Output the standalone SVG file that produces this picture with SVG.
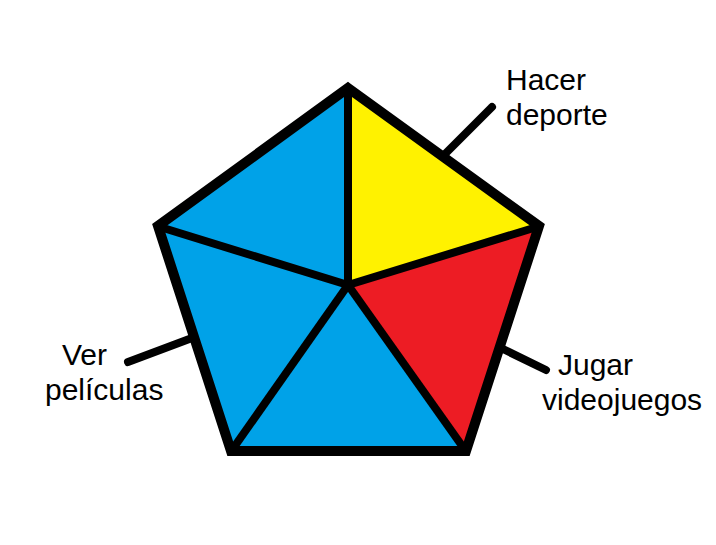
<svg xmlns="http://www.w3.org/2000/svg" width="716" height="545" viewBox="0 0 716 545">
<style>
.lbl{font-family:"Liberation Sans",Arial,sans-serif;font-size:30px;fill:#000}
.edge{stroke:#000;stroke-width:8;stroke-linecap:round;fill:none}
.inner{stroke:#000;stroke-width:8;stroke-linecap:butt}
.outline{fill:none;stroke:#000;stroke-width:10;stroke-linejoin:miter}
</style>
<rect width="716" height="545" fill="#fff"/>
<g id="pentagon">
<polygon points="348,90 160,227 348,285" fill="#00a2e8"/>
<polygon points="348,90 537,227 348,285" fill="#fff200"/>
<polygon points="537,227 465,450 348,285" fill="#ed1c24"/>
<polygon points="465,450 232,450 348,285" fill="#00a2e8"/>
<polygon points="232,450 160,227 348,285" fill="#00a2e8"/>
<g class="inner">
<line x1="348" y1="90" x2="348" y2="286"/>
<line x1="160" y1="227" x2="348" y2="285"/>
<line x1="537" y1="227" x2="348" y2="285"/>
<line x1="465" y1="450" x2="348" y2="285"/>
<line x1="232" y1="450" x2="348" y2="285"/>
</g>
<polygon class="outline" points="348,88 539,226 466,451 231,451 158,226"/>
</g>
<g id="connectors">
<line class="edge" x1="492" y1="107" x2="446" y2="153"/>
<line class="edge" x1="128" y1="362" x2="192" y2="338"/>
<line class="edge" x1="503" y1="349" x2="546" y2="370"/>
</g>
<g id="label-hacer-deporte">
<text class="lbl" x="506" y="90">Hacer</text>
<text class="lbl" x="506" y="125">deporte</text>
</g>
<g id="label-ver-peliculas">
<text class="lbl" x="62" y="365">Ver</text>
<text class="lbl" x="45" y="400">películas</text>
</g>
<g id="label-jugar-videojuegos">
<text class="lbl" x="558" y="375">Jugar</text>
<text class="lbl" x="542" y="410">videojuegos</text>
</g>
</svg>
